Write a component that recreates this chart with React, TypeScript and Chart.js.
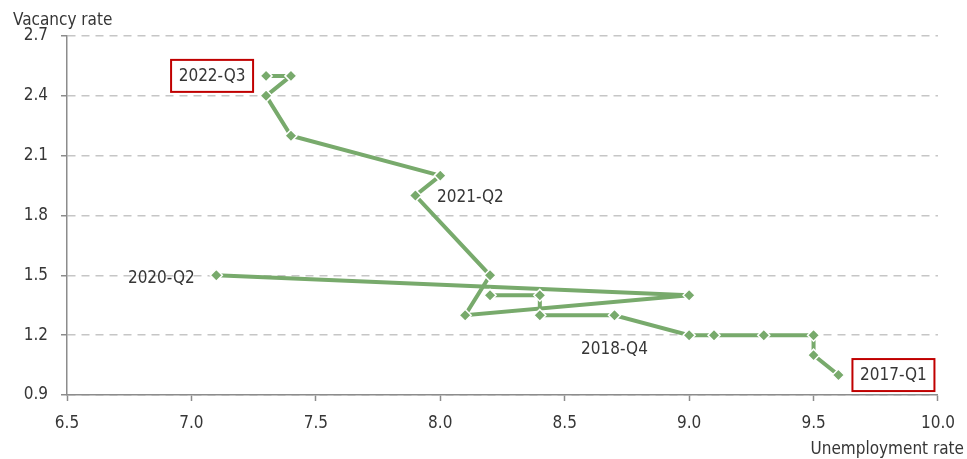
import React, { useEffect, useRef } from "react";
import { Chart, registerables } from "chart.js";

Chart.register(...registerables);

// Path 1 (2017-Q1 onward)
const earlyUnemployment = [9.6, 9.5, 9.5, 9.3, 9.1, 9.0, 8.7, 8.4, 8.4, 8.2];
const earlyVacancy = [1.0, 1.1, 1.2, 1.2, 1.2, 1.2, 1.3, 1.3, 1.4, 1.4];
// Path 2 (2020-Q2 to 2022-Q3)
const lateUnemployment = [7.1, 9.0, 8.1, 8.2, 7.9, 8.0, 7.4, 7.3, 7.4, 7.3];
const lateVacancy = [1.5, 1.4, 1.3, 1.5, 1.9, 2.0, 2.2, 2.4, 2.5, 2.5];

// Point annotations
const labelText = ["2022-Q3", "2021-Q2", "2020-Q2", "2018-Q4", "2017-Q1"];
const labelX = [7.3, 7.9, 7.1, 8.7, 9.6];
const labelY = [2.5, 1.9, 1.5, 1.3, 1.0];
const labelPlacement = ["left-box", "right", "left", "below", "right-box"];

const xMin = 6.5;
const xMax = 10.0;
const xStep = 0.5;
const yMin = 0.9;
const yMax = 2.7;
const yStep = 0.3;

const xTitle = "Unemployment rate";
const yTitle = "Vacancy rate";

const FONT = "'DejaVu Sans Condensed', 'Liberation Sans Narrow', 'Noto Sans', sans-serif";
const FSIZE = 17;
const TEXT = "#363636";
const AXIS = "#8c8c8c";
const GRID = "#c6c6c6";
const GREEN = "#78aa6c";
const RED = "#c00000";

const toPoints = (xs: number[], ys: number[]) => xs.map((v, i) => ({ x: v, y: ys[i] }));

const overlayPlugin = {
  id: "overlay",
  afterDraw(chart: any) {
    const { ctx, scales } = chart;
    const xs = scales.x;
    const ys = scales.y;
    ctx.save();
    ctx.font = `${FSIZE}px ${FONT}`;
    ctx.fillStyle = TEXT;

    // axis titles
    ctx.textBaseline = "alphabetic";
    ctx.textAlign = "left";
    ctx.fillText(yTitle, 13, 25);
    ctx.textAlign = "right";
    ctx.fillText(xTitle, 964, 454);

    // annotations
    ctx.textBaseline = "middle";
    ctx.textAlign = "center";
    labelText.forEach((t, i) => {
      const px = xs.getPixelForValue(labelX[i]);
      const py = ys.getPixelForValue(labelY[i]);
      const place = labelPlacement[i];
      let cx = px;
      let cy = py;
      const boxW = 82;
      const boxH = 32;
      if (place === "left-box") {
        cx = px - 13 - boxW / 2;
      } else if (place === "right-box") {
        cx = px + 14 + boxW / 2;
      } else if (place === "right") {
        cx = px + 23 + 32;
        cy = py + 1;
      } else if (place === "left") {
        cx = px - 23 - 32;
        cy = py + 2;
      } else if (place === "below") {
        cy = py + 33;
      }
      if (place.endsWith("box")) {
        ctx.fillStyle = "#ffffff";
        ctx.fillRect(cx - boxW / 2, cy - boxH / 2, boxW, boxH);
        ctx.strokeStyle = RED;
        ctx.lineWidth = 2;
        ctx.strokeRect(cx - boxW / 2, cy - boxH / 2, boxW, boxH);
        ctx.fillStyle = TEXT;
      }
      ctx.fillText(t, cx, cy + 1);
    });
    ctx.restore();
  },
};

export default function App() {
  const ref = useRef<HTMLCanvasElement | null>(null);

  useEffect(() => {
    if (!ref.current) return;
    const dsStyle = {
      showLine: true,
      borderColor: GREEN,
      borderWidth: 4,
      backgroundColor: GREEN,
      pointStyle: "rectRot",
      pointRadius: 6,
      pointBorderWidth: 1.5,
      pointBorderColor: "#ffffff",
      pointBackgroundColor: GREEN,
      tension: 0,
    };
    const chart = new Chart(ref.current, {
      type: "scatter",
      data: {
        datasets: [
          { label: "early", data: toPoints(earlyUnemployment, earlyVacancy), ...dsStyle } as any,
          { label: "late", data: toPoints(lateUnemployment, lateVacancy), ...dsStyle } as any,
        ],
      },
      options: {
        responsive: false,
        animation: false,
        devicePixelRatio: 1,
        layout: { padding: { left: 0, right: 29, top: 36, bottom: 0 } },
        plugins: {
          legend: { display: false },
          tooltip: { enabled: false },
        },
        scales: {
          x: {
            type: "linear",
            min: xMin,
            max: xMax,
            afterFit: (s: any) => {
              s.height = 64;
            },
            ticks: {
              stepSize: xStep,
              callback: (v: any) => Number(v).toFixed(1),
              color: TEXT,
              font: { family: FONT, size: FSIZE },
              padding: 12,
              maxRotation: 0,
            },
            grid: {
              display: true,
              drawOnChartArea: false,
              drawTicks: true,
              tickLength: 6,
              tickColor: AXIS,
              tickWidth: 1.5,
              tickBorderDash: [],
            },
            border: { display: true, color: AXIS, width: 1.5 },
          },
          y: {
            type: "linear",
            min: yMin,
            max: yMax,
            afterFit: (s: any) => {
              s.width = 67;
            },
            ticks: {
              stepSize: yStep,
              callback: (v: any) => Number(v).toFixed(1),
              color: TEXT,
              font: { family: FONT, size: FSIZE },
              padding: 13,
            },
            grid: {
              display: true,
              drawOnChartArea: true,
              drawTicks: true,
              color: GRID,
              lineWidth: 1.5,
              tickLength: 6,
              tickColor: AXIS,
              tickWidth: 1.5,
              tickBorderDash: [],
            },
            border: { display: true, color: AXIS, width: 1.5, dash: [8, 6] },
          },
        },
      } as any,
      plugins: [overlayPlugin],
    });
    return () => chart.destroy();
  }, []);

  return (
    <div style={{ position: "fixed", left: 0, top: 0, width: 967, height: 459, background: "#fff" }}>
      <canvas ref={ref} width={967} height={459} style={{ display: "block", width: 967, height: 459 }} />
    </div>
  );
}
